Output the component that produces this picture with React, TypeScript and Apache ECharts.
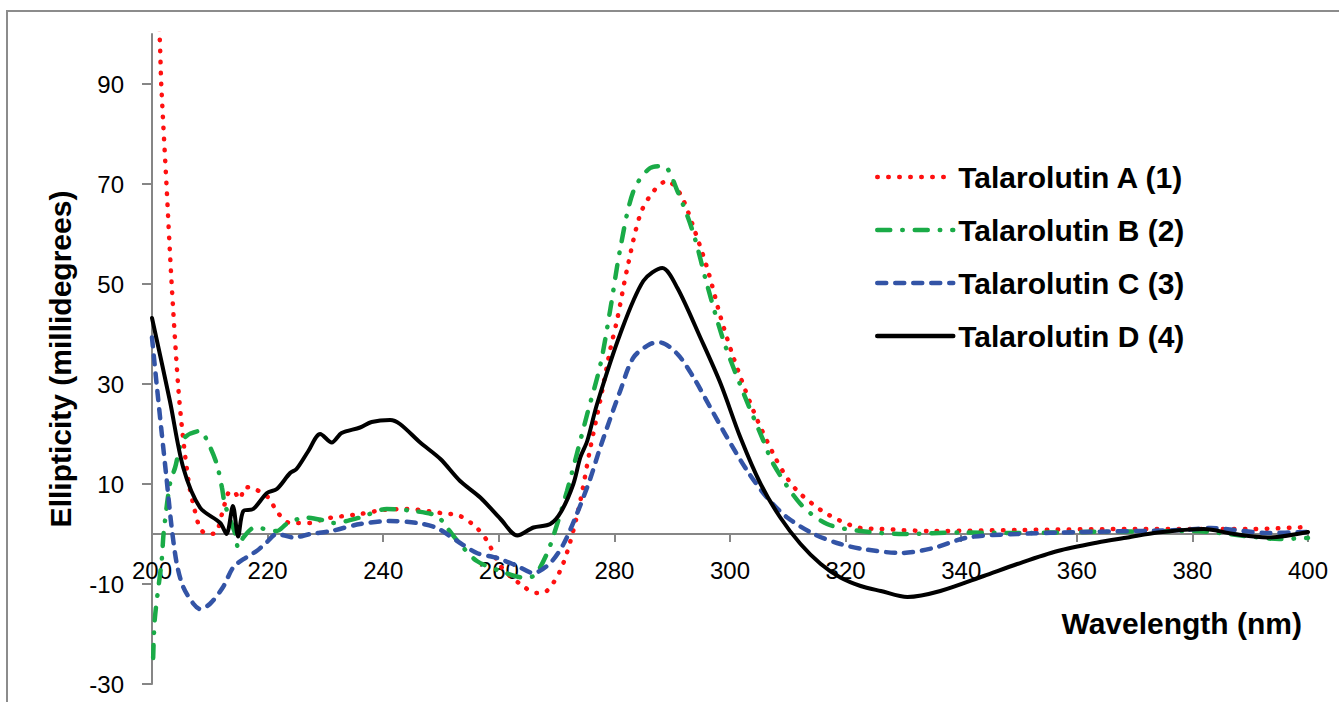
import React, { useEffect, useRef } from "react";
import * as echarts from "echarts";

const wavelengthTicks = [200, 220, 240, 260, 280, 300, 320, 340, 360, 380, 400];
const ellipticityTicks = [-30, -10, 10, 30, 50, 70, 90];
const yMin = -30;
const yMax = 100;

const seriesNames = [
  "Talarolutin A (1)",
  "Talarolutin B (2)",
  "Talarolutin C (3)",
  "Talarolutin D (4)",
];

// [wavelength (nm), ellipticity (mdeg)]
const talarolutinA: [number, number][] = [
  [200.5, 112], [201.3, 100], [201.6, 90], [202.5, 70], [203.4, 50], [204.5, 30],
  [205.3, 20], [206.4, 10], [207.3, 5.2], [208.3, 1.2], [209.5, 0], [211, 0.2],
  [212.1, 4], [213.2, 8.2], [214, 8.6], [215.2, 7], [216.1, 9.4], [217.8, 9],
  [220.1, 7.3], [221.8, 4.2], [223.9, 2.2], [227.9, 2.2], [229.6, 3], [236, 4],
  [240, 4.8], [244, 5], [250, 4.2], [253.3, 3.6], [256.2, 1.2], [258, -1.4],
  [260.3, -6.4], [263.7, -10], [266.6, -11.8], [268.3, -11.4], [270.6, -7.4],
  [272.4, -1.4], [274.1, 6.6], [275.8, 17], [277.6, 27], [279.3, 37], [280.5, 43],
  [282.2, 53], [284.5, 64], [286.8, 68.6], [289.1, 70.6], [291.4, 68], [293.7, 61.3],
  [296.1, 53], [298.4, 43.3], [300.6, 35.3], [304.1, 24.5], [307.5, 16], [310, 11],
  [312.2, 8], [316.8, 4], [322.6, 1.2], [326, 1], [335, 0.6], [350, 0.8], [370, 1],
  [390, 1], [400, 1.4],
];

const talarolutinB: [number, number][] = [
  [200.2, -24.8], [200.5, -16.8], [201.7, -5], [202, 0], [203.1, 10], [204, 13.3],
  [205.4, 19], [208.3, 20.6], [209.8, 18], [211.2, 14], [212.1, 9.3], [212.6, 6],
  [214.4, 0], [214.9, -2.7], [215.8, -0.7], [217.8, 1.3], [221.6, 0.6], [223.3, 2],
  [226.5, 3.3], [230.2, 2.6], [231.4, 2.2], [236, 3.3], [240.6, 5], [245.3, 4.6],
  [249.3, 3.6], [251, 1.3], [253.3, -2], [256.2, -5.4], [260.3, -7.4], [264.3, -8.7],
  [266, -8.4], [268.3, -4], [270.1, 2], [271.8, 8.6], [273.5, 16], [275.3, 24],
  [277.6, 34], [279.3, 45], [281, 57], [283.3, 68.6], [286.2, 73.2], [288.5, 73.6],
  [290.9, 68.6], [293.7, 60], [296, 50], [298.9, 38.6], [302.4, 28], [305.8, 18.6],
  [307.5, 14], [312.2, 6], [316.8, 2], [322.6, 0.6], [330, 0], [340, 0.3], [350, 0.2],
  [360, 0.4], [370, 0.5], [380, 0.6], [390, -0.5], [395, -1], [400, -0.8],
];

const talarolutinC: [number, number][] = [
  [200, 39.3], [200.8, 30], [201.7, 20], [202.5, 11.3], [203.4, 1.3], [204.3, -6],
  [205.4, -10.6], [207.2, -14], [208.3, -15], [210, -14], [212.3, -10.6],
  [214.1, -6.6], [216.4, -4.6], [218.1, -3.4], [219.9, -1.6], [221.6, 0],
  [224.5, -0.7], [227.4, 0], [231, 0.6], [236, 2], [241.2, 2.6], [245.8, 2.2],
  [249.3, 1.2], [252.8, -1.4], [256.2, -3.8], [259.7, -4.8], [263.2, -6.4], [266, -7.8],
  [268.9, -5.8], [271.2, -2], [273.5, 4], [275.8, 11], [277.6, 17.5], [281, 28.6],
  [283.3, 35.3], [286.2, 38], [287.9, 38.3], [290.9, 36], [293.7, 31.3], [296.6, 25.3],
  [299.5, 19.3], [303, 12.6], [306.4, 7.3], [309.9, 3.3], [314.5, 0], [319.1, -2],
  [323, -3], [329.5, -3.8], [335.2, -2.8], [341.1, -0.7], [349.7, 0], [361.2, 0.4],
  [378.5, 0.8], [383.2, 1.2], [393, 0.2], [400, 0.4],
];

const talarolutinD: [number, number][] = [
  [200, 43.2], [203.1, 26.6], [205.4, 13.3], [208.3, 5.3], [211.8, 2.2], [212.9, 0],
  [214, 5.6], [214.9, -0.5], [215.8, 4.6], [217.5, 5], [219.9, 8.2], [221.6, 9],
  [223.9, 12.2], [225, 13], [227, 16.5], [229.1, 20], [231.1, 18.3], [232.8, 20.2],
  [236, 21.3], [238, 22.4], [241.2, 22.8], [242.9, 22], [246.4, 18.3], [249.9, 15],
  [253.3, 10.6], [256.8, 7.3], [260.3, 3], [263.2, -0.3], [266, 1.3], [268.9, 2],
  [270.8, 4.5], [272.9, 10], [274.1, 15.3], [275.3, 18.6], [277, 26], [281, 40],
  [285, 50.6], [288.3, 53.2], [290.9, 49.2], [294.9, 39.2], [298.4, 30], [301.8, 19.3],
  [305.3, 10], [308.7, 3.3], [312.2, -2], [315.7, -6], [319.1, -8.7], [322.6, -10.4],
  [326.1, -11.4], [330.7, -12.6], [336.4, -11.4], [343.9, -8.4], [349.7, -6],
  [356.7, -3.4], [363.6, -1.7], [368.8, -0.7], [374, 0.3], [382, 1], [387.2, 0],
  [393, -0.7], [400, 0.4],
];

const seriesData = [talarolutinA, talarolutinB, talarolutinC, talarolutinD];
const seriesColors = ["#ff1010", "#1aab47", "#3354a6", "#000000"];
const seriesDash: any[] = [[0.5, 10.5], [13, 12, 0.5, 12], [9, 9], "solid"];
const seriesWidth = [4.5, 4.5, 4.5, 4];

const FONT = "'Liberation Sans', Arial, sans-serif";

const GRID_TOP = 34;
const GRID_BOTTOM = 18;
const CHART_H = 702;

export default function App() {
  const ref = useRef<HTMLDivElement>(null);

  useEffect(() => {
    const chart = echarts.init(ref.current!, null, { renderer: "svg" });
    const axisColor = "#868686";
    const gridH = CHART_H - GRID_TOP - GRID_BOTTOM;
    const zeroOffset = -((0 - yMin) / (yMax - yMin)) * gridH;
    chart.setOption({
      animation: false,
      backgroundColor: "#ffffff",
      textStyle: { fontFamily: FONT },
      grid: {
        left: 152,
        right: 31,
        top: GRID_TOP,
        bottom: GRID_BOTTOM,
        containLabel: false,
        outerBoundsMode: "none",
      },
      xAxis: {
        type: "value",
        position: "bottom",
        offset: zeroOffset,
        min: wavelengthTicks[0],
        max: wavelengthTicks[wavelengthTicks.length - 1],
        interval: 20,
        axisLine: { show: true, onZero: false, lineStyle: { color: axisColor, width: 2 } },
        axisTick: { show: true, length: 8, lineStyle: { color: axisColor, width: 2 } },
        axisLabel: {
          margin: 24,
          fontSize: 24,
          color: "#000",
          fontFamily: FONT,
          showMinLabel: true,
          showMaxLabel: true,
        },
        splitLine: { show: false },
      },
      yAxis: {
        type: "value",
        min: yMin,
        max: yMax,
        axisLine: { show: true, onZero: false, lineStyle: { color: axisColor, width: 2 } },
        axisTick: {
          show: true,
          length: 10,
          customValues: ellipticityTicks,
          lineStyle: { color: axisColor, width: 2 },
        },
        axisLabel: {
          customValues: ellipticityTicks,
          margin: 28,
          fontSize: 24,
          color: "#000",
          fontFamily: FONT,
        },
        splitLine: { show: false },
        name: "Ellipticity (millidegrees)",
        nameLocation: "middle",
        nameGap: 77,
        nameTextStyle: { fontSize: 30, fontWeight: "bold", color: "#000", fontFamily: FONT },
      },
      legend: {
        orient: "vertical",
        left: 875,
        top: 161,
        padding: 0,
        itemWidth: 76,
        itemHeight: 14,
        itemGap: 21,
        data: seriesNames,
        itemStyle: { opacity: 0 },
        lineStyle: { width: 4.5 },
        textStyle: { fontSize: 30, fontWeight: "bold", color: "#000", lineHeight: 32, fontFamily: FONT },
      },
      graphic: [
        {
          type: "rect",
          z: -10,
          silent: true,
          shape: { x: 7, y: 11, width: 1400, height: 800 },
          style: { fill: "none", stroke: "#8c8c8c", lineWidth: 2 },
        },
        {
          type: "text",
          x: 1302,
          y: 623,
          style: {
            text: "Wavelength (nm)",
            align: "right",
            verticalAlign: "middle",
            fill: "#000",
            fontSize: 30,
            fontWeight: "bold",
            fontFamily: FONT,
          },
        },
      ],
      series: seriesNames.map((name, i) => ({
        name,
        type: "line",
        data: seriesData[i],
        symbol: "none",
        smooth: 0.3,
        clip: true,
        color: seriesColors[i],
        itemStyle: { color: seriesColors[i] },
        lineStyle: {
          color: seriesColors[i],
          width: seriesWidth[i],
          type: seriesDash[i],
          cap: "round",
        },
      })),
    });
    return () => chart.dispose();
  }, []);

  return (
    <div
      ref={ref}
      style={{ position: "fixed", left: 0, top: 0, width: 1339, height: 702, background: "#fff" }}
    />
  );
}
